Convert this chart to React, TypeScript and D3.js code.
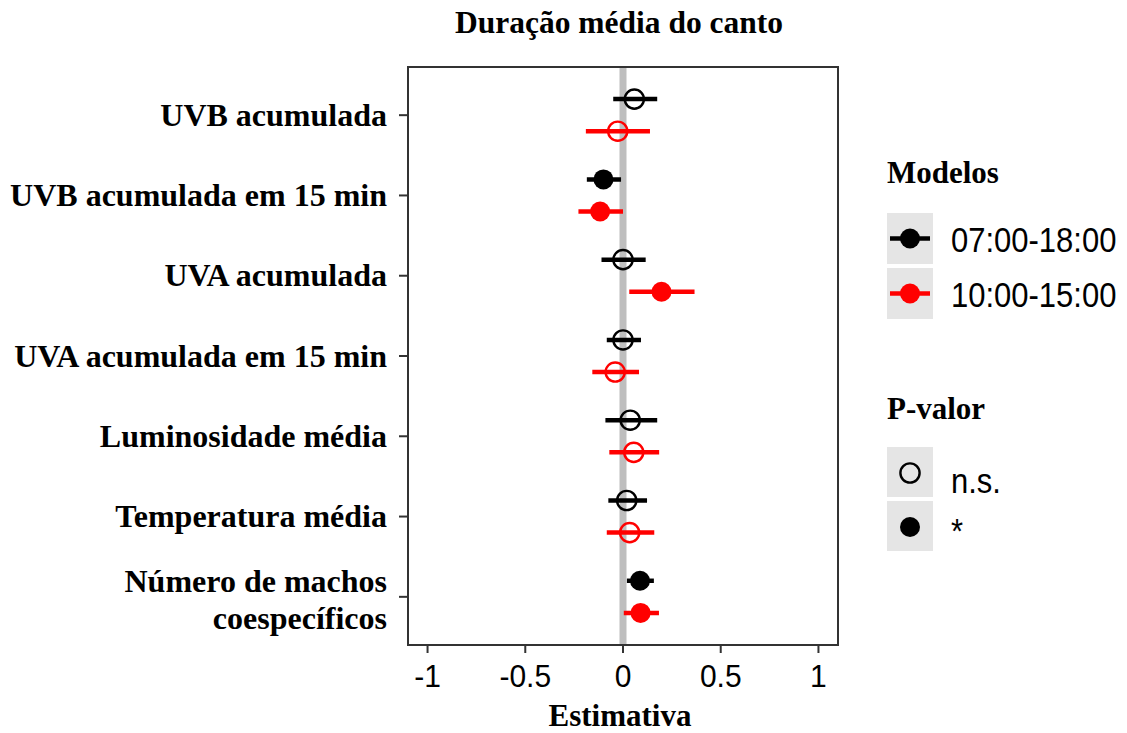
import React from "react";
import * as d3 from "d3";

// Coefficient estimates (with confidence limits) for the two time-window models
const categories = [
  "UVB acumulada",
  "UVB acumulada em 15 min",
  "UVA acumulada",
  "UVA acumulada em 15 min",
  "Luminosidade média",
  "Temperatura média",
  "Número de machos coespecíficos",
];
const categoryLines: string[][] = [
  ["UVB acumulada"],
  ["UVB acumulada em 15 min"],
  ["UVA acumulada"],
  ["UVA acumulada em 15 min"],
  ["Luminosidade média"],
  ["Temperatura média"],
  ["Número de machos", "coespecíficos"],
];

const est0718 = [0.058, -0.1, 0.0, 0.0, 0.037, 0.019, 0.087];
const lo0718 = [-0.05, -0.185, -0.11, -0.083, -0.09, -0.075, 0.02];
const hi0718 = [0.175, -0.01, 0.116, 0.092, 0.175, 0.123, 0.158];
const sig0718 = [false, true, false, false, false, false, true];

const est1015 = [-0.027, -0.117, 0.197, -0.04, 0.055, 0.034, 0.09];
const lo1015 = [-0.19, -0.228, 0.032, -0.157, -0.07, -0.083, 0.004];
const hi1015 = [0.138, 0.0, 0.366, 0.082, 0.185, 0.16, 0.184];
const sig1015 = [false, true, true, false, false, false, true];

const modelNames = ["07:00-18:00", "10:00-15:00"];
const modelColors = ["#000000", "#ff0000"];
const pLabels = ["n.s.", "*"];
const xTicks = [-1, -0.5, 0, 0.5, 1];

const W = 1127;
const H = 733;
const panel = { left: 408, right: 838, top: 67, bottom: 645 };

const SERIF = "'Liberation Serif', 'Times New Roman', Times, serif";
const SANS = "'Liberation Sans', Arial, Helvetica, sans-serif";

export default function App() {
  const x = d3.scaleLinear().domain([-1.1, 1.1]).range([panel.left, panel.right]);
  const y = d3
    .scalePoint<string>()
    .domain(categories)
    .range([panel.top, panel.bottom])
    .padding(0.6);
  const step = y.step();
  const dodge = 0.2 * step;

  const series = [
    { est: est0718, lo: lo0718, hi: hi0718, sig: sig0718, color: modelColors[0], off: -dodge },
    { est: est1015, lo: lo1015, hi: hi1015, sig: sig1015, color: modelColors[1], off: dodge },
  ];

  const fmt = (v: number) => (v === 0 ? "0" : String(v));
  const titleX = (panel.left + panel.right) / 2 - 4;

  return (
    <svg
      width={W}
      height={H}
      style={{ position: "absolute", left: 0, top: 0, background: "#fff" }}
    >
      <rect x={0} y={0} width={W} height={H} fill="#fff" />

      {/* title */}
      <text
        x={titleX}
        y={33}
        textAnchor="middle"
        fontFamily={SERIF}
        fontWeight="bold"
        fontSize={31.5}
      >
        Duração média do canto
      </text>

      {/* zero reference line */}
      <line
        x1={x(0)}
        x2={x(0)}
        y1={panel.top}
        y2={panel.bottom}
        stroke="#bebebe"
        strokeWidth={7}
      />

      {/* error bars and points */}
      {series.map((s, si) => (
        <g key={si}>
          {categories.map((c, i) => {
            const cy = (y(c) as number) + s.off;
            return (
              <g key={c}>
                <line
                  x1={x(s.lo[i])}
                  x2={x(s.hi[i])}
                  y1={cy}
                  y2={cy}
                  stroke={s.color}
                  strokeWidth={4.5}
                />
                {s.sig[i] ? (
                  <circle cx={x(s.est[i])} cy={cy} r={10} fill={s.color} />
                ) : (
                  <circle
                    cx={x(s.est[i])}
                    cy={cy}
                    r={9.6}
                    fill="none"
                    stroke={s.color}
                    strokeWidth={2.4}
                  />
                )}
              </g>
            );
          })}
        </g>
      ))}

      {/* panel border */}
      <rect
        x={panel.left}
        y={panel.top}
        width={panel.right - panel.left}
        height={panel.bottom - panel.top}
        fill="none"
        stroke="#333333"
        strokeWidth={2}
      />

      {/* y axis */}
      {categories.map((c, i) => {
        const ty = y(c) as number;
        const lines = categoryLines[i];
        const lh = 37;
        const first = ty + 10.5 - ((lines.length - 1) * lh) / 2 + (lines.length > 1 ? 3 : 0);
        return (
          <g key={c}>
            <line x1={399} x2={panel.left} y1={ty} y2={ty} stroke="#333333" strokeWidth={2} />
            {lines.map((ln, k) => (
              <text
                key={k}
                x={387}
                y={first + k * lh}
                textAnchor="end"
                fontFamily={SERIF}
                fontWeight="bold"
                fontSize={32}
              >
                {ln}
              </text>
            ))}
          </g>
        );
      })}

      {/* x axis */}
      {xTicks.map((t) => (
        <g key={t}>
          <line
            x1={x(t)}
            x2={x(t)}
            y1={panel.bottom}
            y2={panel.bottom + 8}
            stroke="#333333"
            strokeWidth={2}
          />
          <text
            transform={`translate(${x(t)},687) scale(1,1.05)`}
            textAnchor="middle"
            fontFamily={SANS}
            fontSize={30}
            fill="#000"
          >
            {fmt(t)}
          </text>
        </g>
      ))}
      <text
        x={620}
        y={726}
        textAnchor="middle"
        fontFamily={SERIF}
        fontWeight="bold"
        fontSize={31}
      >
        Estimativa
      </text>

      {/* legend: models */}
      <text x={887} y={183} fontFamily={SERIF} fontWeight="bold" fontSize={31}>
        Modelos
      </text>
      {modelNames.map((m, i) => {
        const top = 213 + i * 55;
        const cy = top + 25.5;
        return (
          <g key={m}>
            <rect x={887} y={top} width={46} height={51} fill="#e5e5e5" />
            <line x1={890} x2={930} y1={cy} y2={cy} stroke={modelColors[i]} strokeWidth={4.5} />
            <circle cx={910} cy={cy} r={10} fill={modelColors[i]} />
            <text
              transform={`translate(951,${cy + 13}) scale(1,1.16)`}
              fontFamily={SANS}
              fontSize={31}
            >
              {m}
            </text>
          </g>
        );
      })}

      {/* legend: p-value */}
      <text x={887} y={419} fontFamily={SERIF} fontWeight="bold" fontSize={31}>
        P-valor
      </text>
      {pLabels.map((p, i) => {
        const top = 447 + i * 54;
        const cy = top + 26;
        return (
          <g key={p}>
            <rect x={887} y={top} width={46} height={50} fill="#e5e5e5" />
            {i === 0 ? (
              <circle cx={910} cy={cy} r={9.6} fill="none" stroke="#000" strokeWidth={2.4} />
            ) : (
              <circle cx={910} cy={cy} r={10} fill="#000" />
            )}
            <text
              transform={`translate(951,${i === 0 ? cy + 20 : cy + 16}) scale(1,1.16)`}
              fontFamily={SANS}
              fontSize={31}
            >
              {p}
            </text>
          </g>
        );
      })}
    </svg>
  );
}
